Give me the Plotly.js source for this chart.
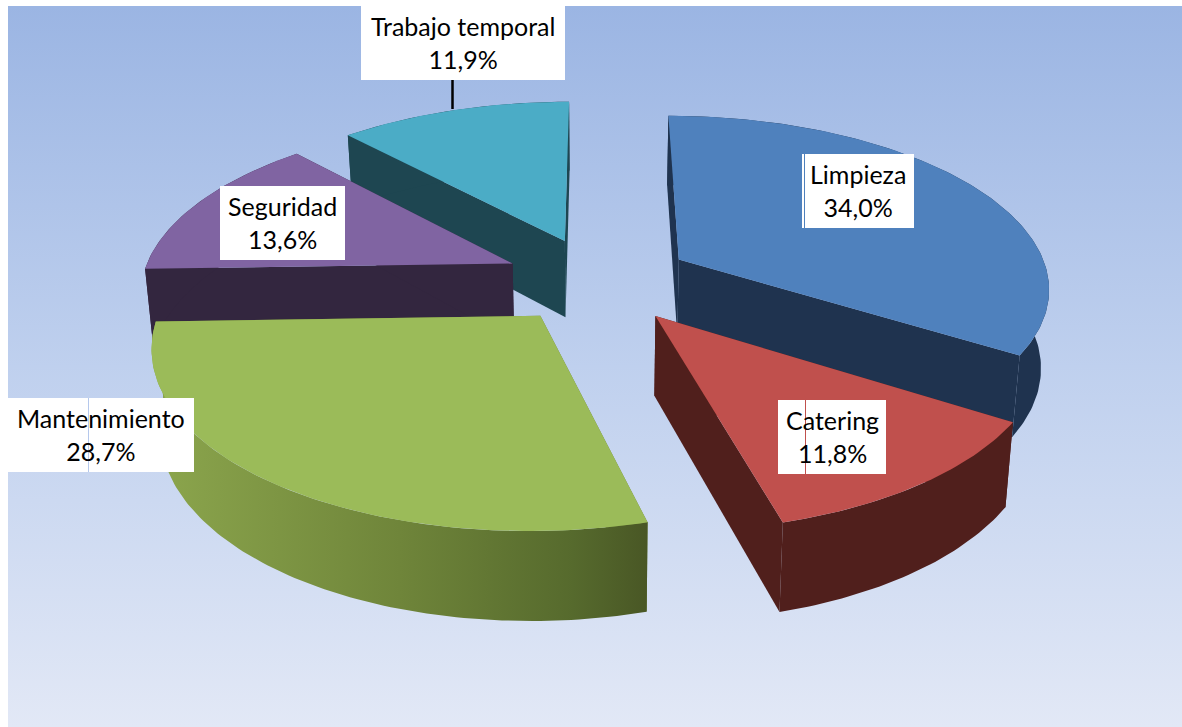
<!DOCTYPE html>
<html><head><meta charset="utf-8">
<script src="https://cdn.plot.ly/plotly-3.0.1.min.js"></script>
<style>html,body{margin:0;padding:0;background:#fff}#c{width:1182px;height:727px}</style>
</head><body><div id="c"></div>
<script>
// Data, clockwise from the top
var categories = ["Limpieza","Catering","Mantenimiento","Seguridad","Trabajo temporal"];
var values = [34.0,11.8,28.7,13.6,11.9];
var topColors = ["#4F81BD","#C0504D","#9BBB59","#8064A2","#4BACC6"];
var wallColors = ["#1F334F","#501F1C","#6B8038","#33263F","#1E4651"];
var paintOrder = [4,3,0,2,1];
var labelBoxes = [[802,154,112,74],[778,400,108,74],[8,398,186,74],[220,186,125,74],[361,6,204,74]];
var hairlines = [[804.5,154,228,"#4F81BD"],[805.5,400,474,"#C0504D"],[88.5,398,472,"#B5C8EC"]];

// Perspective model of the tilted, exploded pie
var cx=598, cy=280, A=371, B=171, p=0.15, explode=0.253, H=78, pH=0.11, shrink=0.018;
function project(X,Y,z){
  var d=1+p*Y;
  return [cx+(A*X/d)*(1-shrink*z), cy-B*Y/d+H*z/(1+pH*Y)];
}
var total=values.reduce(function(a,b){return a+b;},0);
var spans=[], acc=0;
values.forEach(function(v){var s=acc/total*2*Math.PI; acc+=v; spans.push([s,acc/total*2*Math.PI]);});

function poly(pts,color,extra){
  var t={type:"scatter",mode:"lines",x:pts.map(function(q){return q[0];}),y:pts.map(function(q){return q[1];}),
    fill:"toself",fillcolor:color,line:{width:0,color:color},hoverinfo:"skip",showlegend:false};
  if(extra) for(var k in extra) t[k]=extra[k];
  return t;
}
function slice(i){
  var a0=spans[i][0],a1=spans[i][1],m=(a0+a1)/2;
  var ox=explode*Math.sin(m),oy=explode*Math.cos(m);
  function rim(a,z){return project(Math.sin(a)+ox,Math.cos(a)+oy,z);}
  function apex(z){return project(ox,oy,z);}
  var n=Math.ceil((a1-a0)/(Math.PI/180)),top=[],bot=[];
  for(var k=0;k<=n;k++){var a=a0+(a1-a0)*k/n;top.push(rim(a,0));bot.push(rim(a,1));}
  var out=[];
  out.push(poly([apex(0),rim(a0,0),rim(a0,1),apex(1)],wallColors[i]));
  out.push(poly([apex(0),rim(a1,0),rim(a1,1),apex(1)],wallColors[i]));
  var wall=top.concat(bot.slice().reverse());
  if(categories[i]==="Mantenimiento"){
    out.push(poly(wall,wallColors[i],{fillgradient:{type:"horizontal",colorscale:[[0,"#8CA64D"],[0.5,"#6F853A"],[0.85,"#566A2D"],[1,"#495725"]]}}));
  } else out.push(poly(wall,wallColors[i]));
  out.push(poly([apex(0)].concat(top),topColors[i]));
  return out;
}
var traces=[poly([[8,6],[1182,6],[1182,727],[8,727]],"#BCCDEE",{fillgradient:{type:"vertical",colorscale:[[0,"#E2E8F6"],[0.5,"#BFD0EE"],[1,"#9BB5E3"]]}})];
paintOrder.forEach(function(i){traces=traces.concat(slice(i));});

var shapes=[{type:"line",layer:"above",x0:452.5,x1:452.5,y0:80,y1:109,line:{color:"#000",width:2.5}}];
labelBoxes.forEach(function(b){
  shapes.push({type:"rect",layer:"above",x0:b[0],x1:b[0]+b[2],y0:b[1],y1:b[1]+b[3],fillcolor:"#FFFFFF",line:{width:0}});
});
hairlines.forEach(function(t){
  shapes.push({type:"line",layer:"above",x0:t[0],x1:t[0],y0:t[1],y1:t[2],line:{color:t[3],width:1}});
});
var annotations=categories.map(function(c,i){
  var b=labelBoxes[i];
  return {xref:"x",yref:"y",x:b[0]+b[2]/2,y:b[1]+b[3]/2-0.5,xanchor:"center",yanchor:"middle",align:"center",
    borderpad:0,borderwidth:0,showarrow:false,
    text:c+"<br>"+values[i].toFixed(1).replace(".",",")+"%",
    font:{family:"Lato, Carlito, sans-serif",size:25,color:"#000"}};
});
var layout={width:1182,height:727,margin:{l:0,r:0,t:0,b:0},paper_bgcolor:"#fff",plot_bgcolor:"rgba(0,0,0,0)",
  xaxis:{visible:false,range:[0,1182],fixedrange:true},yaxis:{visible:false,range:[727,0],fixedrange:true},
  shapes:shapes,annotations:annotations,showlegend:false};
Plotly.newPlot("c",traces,layout,{displayModeBar:false,staticPlot:true});
</script></body></html>
